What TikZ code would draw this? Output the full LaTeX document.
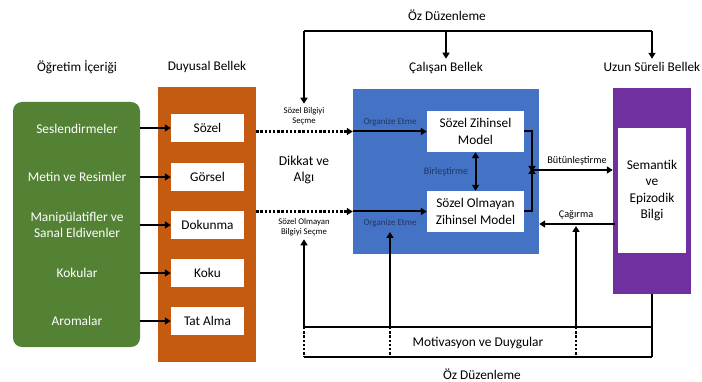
\documentclass[tikz,border=0pt]{standalone}
\usepackage{fontspec}
\setmainfont{Carlito}
\usetikzlibrary{arrows.meta}
\definecolor{cgreen}{HTML}{548235}
\definecolor{corange}{HTML}{C55A11}
\definecolor{cblue}{HTML}{4472C4}
\definecolor{cpurple}{HTML}{7030A0}
\definecolor{cnavy}{HTML}{1F3864}
\tikzset{
  conn/.style={line width=2pt},
  arr/.style={conn,-{Triangle[length=6pt,width=7pt]}},
  darr/.style={conn,{Triangle[length=6pt,width=7pt]}-{Triangle[length=6pt,width=7pt]}},
  dotl/.style={line width=2.4pt,dash pattern=on 2.4pt off 1.8pt},
  dotarr/.style={dotl,-{Triangle[length=6pt,width=7pt]}},
  wbox/.style={fill=white,draw=none,minimum width=73pt,minimum height=28pt,inner sep=0pt,font=\fontsize{13.3}{16}\selectfont},
  mbox/.style={fill=white,draw=none,minimum width=97pt,minimum height=41pt,inner sep=0pt,align=center,font=\fontsize{13.3}{17}\selectfont},
  glab/.style={text=white,align=center,font=\fontsize{13.4}{16}\selectfont},
  title/.style={font=\fontsize{13.3}{16}\selectfont},
  small/.style={font=\fontsize{10.3}{12}\selectfont,align=center},
  tiny/.style={font=\fontsize{8.7}{10}\selectfont,align=center},
  navy/.style={font=\fontsize{9}{11}\selectfont,align=center,text=cnavy},
}
\begin{document}
\begin{tikzpicture}[x=1pt,y=-1pt]
\useasboundingbox (0,0) rectangle (702,382);
% titles
\node[title] (t1) at (77,67) {Öğretim İçeriği};
\node[title] (t2) at (207,67) {Duyusal Bellek};
\node[title] (t3) at (446,68) {Çalışan Bellek};
\node[title] (t4) at (652,67) {Uzun Süreli Bellek};
\node[title] (oz1) at (447,15) {Öz Düzenleme};
\node[title] (oz2) at (482,374) {Öz Düzenleme};
% main blocks
\node[fill=cgreen,rounded corners=9pt,minimum width=127pt,minimum height=245pt,inner sep=0pt] (green) at (76.5,224.5) {};
\node[fill=corange,minimum width=98pt,minimum height=275pt,inner sep=0pt] (orange) at (207,224.5) {};
\node[fill=cblue,minimum width=186pt,minimum height=165pt,inner sep=0pt] (blue) at (446,171.5) {};
\node[fill=cpurple,minimum width=78pt,minimum height=206pt,inner sep=0pt] (purple) at (652,191) {};
\node[fill=white,minimum width=68pt,minimum height=125pt,inner sep=0pt,align=center,font=\fontsize{13.4}{16.4}\selectfont] (sem) at (652,190.5) {Semantik\\ve\\Epizodik\\Bilgi};
% green labels
\node[glab] (g1) at (77,129) {Seslendirmeler};
\node[glab] (g2) at (77,177) {Metin ve Resimler};
\node[glab] (g3) at (77,225) {Manipülatifler ve\\Sanal Eldivenler};
\node[glab] (g4) at (77,273) {Kokular};
\node[glab] (g5) at (77,321) {Aromalar};
% sensory boxes
\node[wbox] (s1) at (207.5,128) {Sözel};
\node[wbox] (s2) at (207.5,177) {Görsel};
\node[wbox] (s3) at (207.5,225) {Dokunma};
\node[wbox] (s4) at (207.5,273) {Koku};
\node[wbox] (s5) at (207.5,321) {Tat Alma};
\foreach \i in {1,...,5}{\draw[arr] (green.east |- s\i.west) -- (s\i.west);}
% working memory
\node[mbox] (szm) at (475.5,131.5) {Sözel Zihinsel\\Model};
\node[mbox] (sozm) at (475.5,211.5) {Sözel Olmayan\\Zihinsel Model};
\draw[dotarr] (orange.east |- szm.west) -- (blue.west |- szm.west);
\draw[arr] (blue.west |- szm.west) -- (szm.west);
\draw[dotarr] (orange.east |- sozm.west) -- (blue.west |- sozm.west);
\draw[arr] (blue.west |- sozm.west) -- (sozm.west);
\node[navy] (org1) at (390,122) {Organize Etme};
\node[navy] (org2) at (390,223) {Organize Etme};
\draw[darr] (szm.south) -- (sozm.north);
\node[navy,font=\fontsize{10}{12}\selectfont] (bir) at (446,172) {Birleştirme};
\node[tiny] (sec1) at (304,116) {Sözel Bilgiyi\\Seçme};
\node[font=\fontsize{13.6}{16}\selectfont,align=center] (dik) at (304,170) {Dikkat ve\\Algı};
\node[tiny] (sec2) at (304,227) {Sözel Olmayan\\Bilgiyi Seçme};
% integration
\coordinate (J) at (532,170);
\draw[arr] (szm.east) -| ([yshift=-2pt]J);
\draw[arr] (sozm.east) -| ([yshift=2pt]J);
\draw[arr] (J) -- (purple.west |- J);
\node[small] (but) at (577,161) {Bütünleştirme};
\coordinate (C) at (615,224);
\draw[arr] (C) -- (blue.east |- C);
\node[small] (cag) at (576,215) {Çağırma};
% top self-regulation
\coordinate (TL) at (304,31);
\coordinate (TR) at (652,31);
\coordinate (TM) at (446,31);
\draw[conn] (TL) -- (TR);
\draw[arr] (TL) -- (sec1.north);
\draw[arr] (TM) -- (t3.north);
\draw[arr] (TR) -- (t4.north);
% bottom motivation
\coordinate (B1) at (304,327);
\coordinate (B2) at (390,327);
\coordinate (B3) at (576,327);
\coordinate (B4) at (652,327);
\coordinate (L1) at (304,357);
\coordinate (L2) at (390,357);
\coordinate (L3) at (576,357);
\coordinate (L4) at (652,357);
\draw[conn] (B1) -- (B4);
\draw[conn] (L1) -- (L4);
\draw[conn] (purple.south) -- (L4);
\draw[dotl] (B1) -- (L1);
\draw[dotl] (B2) -- (L2);
\draw[dotl] (B3) -- (L3);
\draw[arr] (B1) -- (sec2.south);
\draw[arr] (B2) -- (390,232);
\draw[arr] (B3) -- (576,226);
\node[font=\fontsize{13.4}{16}\selectfont] (mot) at (478,343) {Motivasyon ve Duygular};
\end{tikzpicture}
\end{document}
